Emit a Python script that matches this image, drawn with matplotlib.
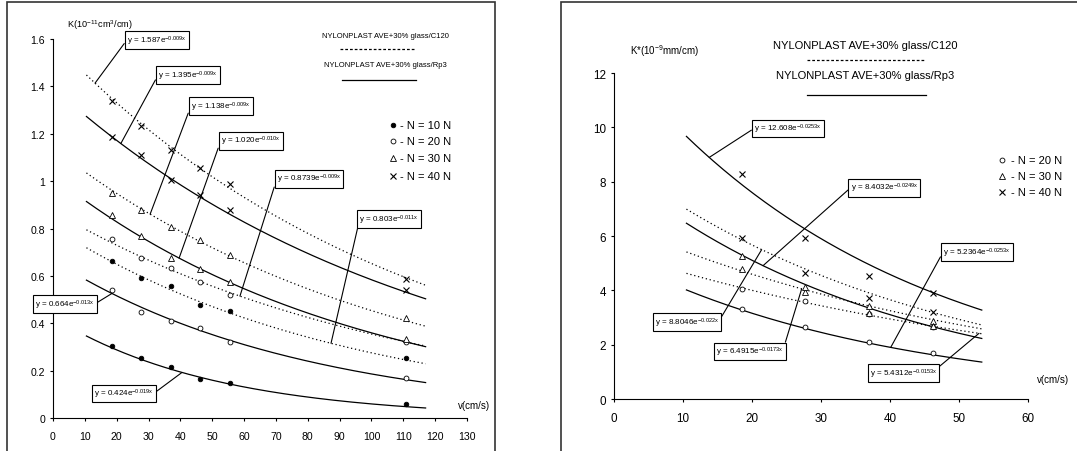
import numpy as np
import matplotlib.pyplot as plt
from matplotlib.patches import Rectangle

plt.rcParams['font.family'] = ['Liberation Sans', 'DejaVu Sans']
plt.rcParams['mathtext.fontset'] = 'custom'
plt.rcParams['mathtext.rm'] = 'Liberation Sans'
plt.rcParams['mathtext.it'] = 'Liberation Sans:italic'
plt.rcParams['mathtext.bf'] = 'Liberation Sans:bold'

# ---- left panel data: K vs v ----
v_left = [18.5, 27.75, 37, 46.25, 55.5, 111]
k10_c120 = [0.664, 0.592, 0.557, 0.480, 0.452, 0.256]
k10_rp3 = [0.306, 0.256, 0.218, 0.166, 0.147, 0.059]
k20_c120 = [0.755, 0.676, 0.632, 0.575, 0.522, 0.323]
k20_rp3 = [0.540, 0.449, 0.411, 0.379, 0.323, 0.171]
k30_c120 = [0.950, 0.877, 0.807, 0.751, 0.690, 0.421]
k30_rp3 = [0.856, 0.769, 0.678, 0.629, 0.573, 0.334]
k40_c120 = [1.340, 1.235, 1.130, 1.057, 0.987, 0.589]
k40_rp3 = [1.186, 1.112, 1.006, 0.940, 0.877, 0.540]

# exponential trend lines y = a*exp(-b*x)
left_a = [0.805, 0.426, 0.874, 0.666, 1.14, 1.02, 1.59, 1.395]
left_b = [0.0107, 0.0195, 0.0090, 0.0127, 0.0092, 0.0104, 0.0089, 0.0087]
left_eq = ['y = 0.803e', 'y = 0.424e', 'y = 0.8739e', 'y = 0.664e',
           'y = 1.138e', 'y = 1.020e', 'y = 1.587e', 'y = 1.395e']
left_exp = ['-0.011x', '-0.019x', '-0.009x', '-0.013x',
            '-0.009x', '-0.010x', '-0.009x', '-0.009x']

# ---- right panel data: K* vs v ----
v_right = [18.5, 27.75, 37, 46.25]
ks20_c120 = [4.05, 3.60, 3.13, 2.64]
ks20_rp3 = [3.31, 2.64, 2.11, 1.68]
ks30_c120 = [4.78, 3.93, 3.43, 2.88]
ks30_rp3 = [5.27, 4.11, 3.17, 2.70]
ks40_c120 = [5.91, 4.63, 3.72, 3.21]
ks40_rp3 = [8.28, 5.91, 4.52, 3.90]

right_a = [5.4312, 5.2364, 6.4915, 8.4032, 8.8046, 12.608]
right_b = [0.0153, 0.0253, 0.0173, 0.0249, 0.022, 0.0253]
right_eq = ['y = 5.4312e', 'y = 5.2364e', 'y = 6.4915e', 'y = 8.4032e',
            'y = 8.8046e', 'y = 12.608e']
right_exp = ['-0.0153x', '-0.0253x', '-0.0173x', '-0.0249x', '-0.022x', '-0.0253x']

title_c120 = 'NYLONPLAST AVE+30% glass/C120'
title_rp3 = 'NYLONPLAST AVE+30% glass/Rp3'
left_loads = ['- N = 10 N', '- N = 20 N', '- N = 30 N', '- N = 40 N']
right_loads = ['- N = 20 N', '- N = 30 N', '- N = 40 N']
left_yticks = [0, 0.2, 0.4, 0.6, 0.8, 1.0, 1.2, 1.4, 1.6]
left_yticklabels = ['0', '0.2', '0.4', '0.6', '0.8', '1', '1.2', '1.4', '1.6']
left_xticks = list(range(0, 131, 10))
right_yticks = list(range(0, 13, 2))
right_xticks = list(range(0, 61, 10))

dotted = (0, (1, 2.2))
mk = {
    'filled': dict(marker='o', ms=3.3, mfc='black', mec='black', mew=0.6),
    'circle': dict(marker='o', ms=3.5, mfc='white', mec='black', mew=0.6),
    'tri': dict(marker='^', ms=3.9, mfc='white', mec='black', mew=0.6),
    'cross': dict(marker='x', ms=4.2, mec='black', mew=0.8),
}


def style_axes(ax, size):
    for s in ['top', 'right']:
        ax.spines[s].set_visible(False)
    for s in ['left', 'bottom']:
        ax.spines[s].set_linewidth(0.8)
    ax.tick_params(axis='both', direction='out', length=2.3, width=0.8, labelsize=size)
    ax.tick_params(axis='x', pad=7)
    ax.tick_params(axis='y', pad=3.5)


def eq_label(ax, txt, sup, a, b, lx, tx, ty, rel):
    ax.annotate(txt + r'$^{\mathregular{' + sup + '}}$',
                xy=(lx, a * np.exp(-b * lx)), xytext=(tx, ty), textcoords='data',
                ha='left', va='center', fontsize=5.8,
                bbox=dict(boxstyle='square,pad=0.28', fc='white', ec='black', lw=0.8),
                arrowprops=dict(arrowstyle='-', lw=0.8, color='black',
                                shrinkA=0, shrinkB=0, relpos=rel),
                annotation_clip=False, zorder=6)


fig = plt.figure(figsize=(10.77, 4.52), dpi=100)

# panel frames
fig.patches.append(Rectangle((0.0065, -0.02), 0.4531, 1.0134, transform=fig.transFigure,
                             fill=False, ec='#333333', lw=1.2))
fig.patches.append(Rectangle((0.5209, -0.02), 0.6, 1.0134, transform=fig.transFigure,
                             fill=False, ec='#333333', lw=1.2))

# ================= left panel =================
ax1 = fig.add_axes([0.04921, 0.07235, 0.38440, 0.83916])
style_axes(ax1, 7.6)
xs = np.linspace(10.5, 117, 200)
left_series = [k10_c120, k10_rp3, k20_c120, k20_rp3, k30_c120, k30_rp3, k40_c120, k40_rp3]
left_marks = ['filled', 'filled', 'circle', 'circle', 'tri', 'tri', 'cross', 'cross']
for i, ys in enumerate(left_series):
    ls = dotted if i % 2 == 0 else '-'
    ax1.plot(xs, left_a[i] * np.exp(-left_b[i] * xs), color='black', lw=0.9, ls=ls)
    ax1.plot(v_left, ys, ls='none', **mk[left_marks[i]], zorder=4)

ax1.set_xlim(0, 130)
ax1.set_ylim(0, 1.6)
ax1.set_xticks(left_xticks)
ax1.set_yticks(left_yticks)
ax1.set_yticklabels(left_yticklabels)

# (series index, leader x, text x, text y, relpos)
left_lab = [(6, 13.2, 23.2, 1.596, (0, 0.5)),
            (7, 21.3, 33.0, 1.448, (0, 0.5)),
            (4, 30.5, 43.3, 1.317, (0, 0.5)),
            (5, 39.6, 52.7, 1.171, (0, 0.5)),
            (2, 58.7, 70.3, 1.011, (0, 0.5)),
            (0, 87.3, 96.1, 0.840, (0, 0.3)),
            (3, 18.5, -5.65, 0.482, (1, 0.5)),
            (1, 40.5, 12.9, 0.105, (1, 0.5))]
for i, lx, tx, ty, rel in left_lab:
    eq_label(ax1, left_eq[i], left_exp[i], left_a[i], left_b[i], lx, tx, ty, rel)

ax1.text(4.4, 1.662, r'K(10$^{\mathregular{-11}}$cm$^{\mathregular{3}}$/cm)',
         fontsize=6.6, ha='left', va='center', clip_on=False)
ax1.text(127.2, 0.056, 'v(cm/s)', fontsize=7, ha='left', va='center', clip_on=False)

ax1.text(104.3, 1.616, title_c120, fontsize=5.5, ha='center', va='center', clip_on=False)
ax1.plot([90.1, 114.0], [1.557, 1.557], color='black', lw=0.9, ls=(0, (2.2, 1.6)), clip_on=False)
ax1.text(104.3, 1.494, title_rp3, fontsize=5.5, ha='center', va='center', clip_on=False)
ax1.plot([90.7, 114.0], [1.427, 1.427], color='black', lw=0.9, clip_on=False)

leg_y = [1.237, 1.170, 1.098, 1.022]
for j, key in enumerate(['filled', 'circle', 'tri', 'cross']):
    ax1.plot([106.8], [leg_y[j]], ls='none', clip_on=False, **mk[key])
    ax1.text(108.9, leg_y[j], left_loads[j], fontsize=8, ha='left', va='center')

# ================= right panel =================
ax2 = fig.add_axes([0.57010, 0.11504, 0.38440, 0.72124])
style_axes(ax2, 8.4)
xs2 = np.linspace(10.5, 53.3, 200)
right_series = [ks20_c120, ks20_rp3, ks30_c120, ks30_rp3, ks40_c120, ks40_rp3]
right_marks = ['circle', 'circle', 'tri', 'tri', 'cross', 'cross']
for i, ys in enumerate(right_series):
    ls = dotted if i % 2 == 0 else '-'
    ax2.plot(xs2, right_a[i] * np.exp(-right_b[i] * xs2), color='black', lw=0.9, ls=ls)
    ax2.plot(v_right, ys, ls='none', **mk[right_marks[i]], zorder=4)

ax2.set_xlim(0, 60)
ax2.set_ylim(0, 12)
ax2.set_xticks(right_xticks)
ax2.set_yticks(right_yticks)

right_lab = [(5, 13.8, 20.3, 9.96, (0, 0.5)),
             (3, 21.6, 34.3, 7.78, (0, 0.5)),
             (4, 21.4, 5.94, 2.83, (1, 0.6)),
             (2, 27.2, 14.8, 1.75, (1, 0.7)),
             (1, 40.1, 47.7, 5.41, (0, 0.5)),
             (0, 52.9, 37.1, 0.96, (1, 0.85))]
for i, lx, tx, ty, rel in right_lab:
    eq_label(ax2, right_eq[i], right_exp[i], right_a[i], right_b[i], lx, tx, ty, rel)

ax2.text(2.3, 12.85, r'K*(10$^{\mathregular{-9}}$mm/cm)', fontsize=7,
         ha='left', va='center', clip_on=False)
ax2.text(61.3, 0.74, 'v(cm/s)', fontsize=7, ha='left', va='center', clip_on=False)

ax2.text(36.4, 13.03, title_c120, fontsize=8, ha='center', va='center', clip_on=False)
ax2.plot([28.0, 44.9], [12.48, 12.48], color='black', lw=0.9, ls=(0, (2.2, 1.6)), clip_on=False)
ax2.text(36.4, 11.92, title_rp3, fontsize=8, ha='center', va='center', clip_on=False)
ax2.plot([28.0, 45.2], [11.19, 11.19], color='black', lw=0.9, clip_on=False)

leg_y2 = [8.80, 8.21, 7.62]
for j, key in enumerate(['circle', 'tri', 'cross']):
    ax2.plot([56.2], [leg_y2[j]], ls='none', clip_on=False, **mk[key])
    ax2.text(57.6, leg_y2[j], right_loads[j], fontsize=8, ha='left', va='center',
             clip_on=False)

fig.savefig('out.png', dpi=100)
